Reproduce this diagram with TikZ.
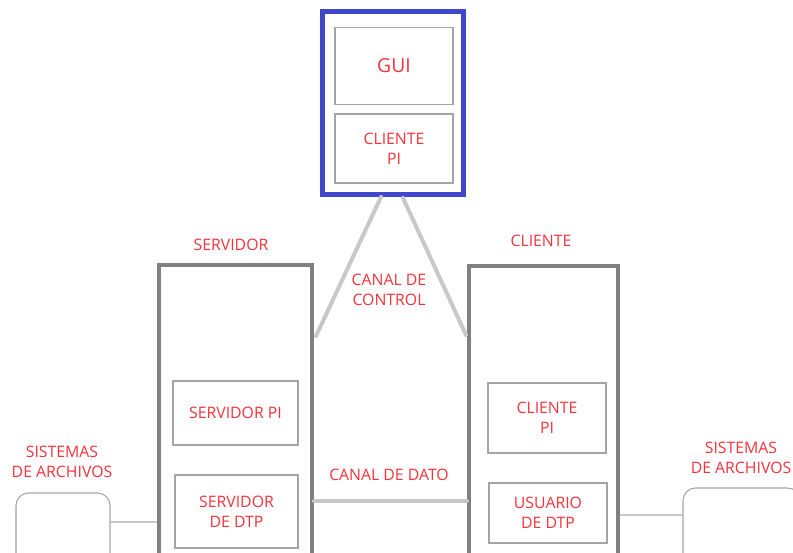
\documentclass[tikz,border=0pt]{standalone}
\usepackage{fontspec}
\setmainfont{Open Sans}
\usetikzlibrary{calc}
\definecolor{txtred}{RGB}{245,50,60}
\definecolor{pcblue}{RGB}{63,72,204}
\definecolor{boxgray}{RGB}{128,128,128}
\definecolor{ingray}{RGB}{165,165,165}
\definecolor{linegray}{RGB}{200,200,200}
\tikzset{
  lbl/.style={text=txtred,align=center,font=\fontsize{9}{11.3}\selectfont},
  bigbox/.style={draw=boxgray,line width=0.09cm},
  pcbox/.style={draw=pcblue,line width=0.1cm},
  inbox/.style={draw=ingray,line width=0.6pt,text=txtred,align=center,font=\fontsize{9}{11.3}\selectfont},
  fsbox/.style={draw=ingray,line width=0.6pt,rounded corners=0.25cm},
  canal/.style={draw=linegray,line width=0.08cm,line cap=round},
  fsline/.style={draw=linegray,line width=0.6pt}
}
\begin{document}
\begin{tikzpicture}[x=0.02cm,y=-0.02cm]
    \useasboundingbox (0,0) rectangle (793,553);
    \clip (0,0) rectangle (793,553);
    % equipo de la GUI
    \node[pcbox,minimum width=2.84cm,minimum height=3.68cm] (pc) at (393,103) {};
    \node[inbox,minimum width=2.36cm,minimum height=1.54cm,font=\fontsize{11}{14}\selectfont] (gui) at (394,66) {GUI};
    \node[inbox,minimum width=2.36cm,minimum height=1.38cm] (cpitop) at (394,148.5) {CLIENTE\\PI};
    % servidor
    \node[lbl] (srvlbl) at (231,245) {SERVIDOR};
    \node[bigbox,minimum width=3.06cm,minimum height=6.7cm] (srv) at (235.5,432.5) {};
    \node[inbox,minimum width=2.5cm,minimum height=1.28cm] (srvpi) at (235.5,413) {SERVIDOR PI};
    \node[inbox,minimum width=2.46cm,minimum height=1.46cm] (srvdtp) at (236.5,511.5) {SERVIDOR\\DE DTP};
    % cliente
    \node[lbl] (clilbl) at (541,241) {CLIENTE};
    \node[bigbox,minimum width=2.98cm,minimum height=6.68cm] (cli) at (543.5,433) {};
    \node[inbox,minimum width=2.36cm,minimum height=1.4cm] (clipi) at (547,418) {CLIENTE\\PI};
    \node[inbox,minimum width=2.36cm,minimum height=1.2cm] (usrdtp) at (548,513) {USUARIO\\DE DTP};
    % sistemas de archivos
    \node[lbl] (fsllbl) at (62,462) {SISTEMAS\\DE ARCHIVOS};
    \node[fsbox,minimum width=1.88cm,minimum height=2.14cm] (fsl) at (63,546.5) {};
    \node[lbl] (fsrlbl) at (741,458) {SISTEMAS\\DE ARCHIVOS};
    \node[fsbox,minimum width=2.34cm,minimum height=2.24cm] (fsr) at (741.5,544) {};
    % canales
    \coordinate (ctlA) at (381,197);
    \coordinate (ctlB) at (403,198);
    \coordinate (srvctl) at (316,336);
    \coordinate (clictl) at (466,335);
    \draw[canal] (ctlA) -- (srvctl);
    \draw[canal] (ctlB) -- (clictl);
    \node[lbl] (ctllbl) at (389,290) {CANAL DE\\CONTROL};
    \coordinate (datA) at (314,501);
    \coordinate (datB) at (467,501);
    \draw[canal] (datA) -- (datB);
    \node[lbl] (datlbl) at (389,475) {CANAL DE DATO};
    \draw[fsline] (fsl.east |- 0,522) -- (srv.west |- 0,522);
    \draw[fsline] (cli.east |- 0,515) -- (fsr.west |- 0,515);
\end{tikzpicture}
\end{document}
